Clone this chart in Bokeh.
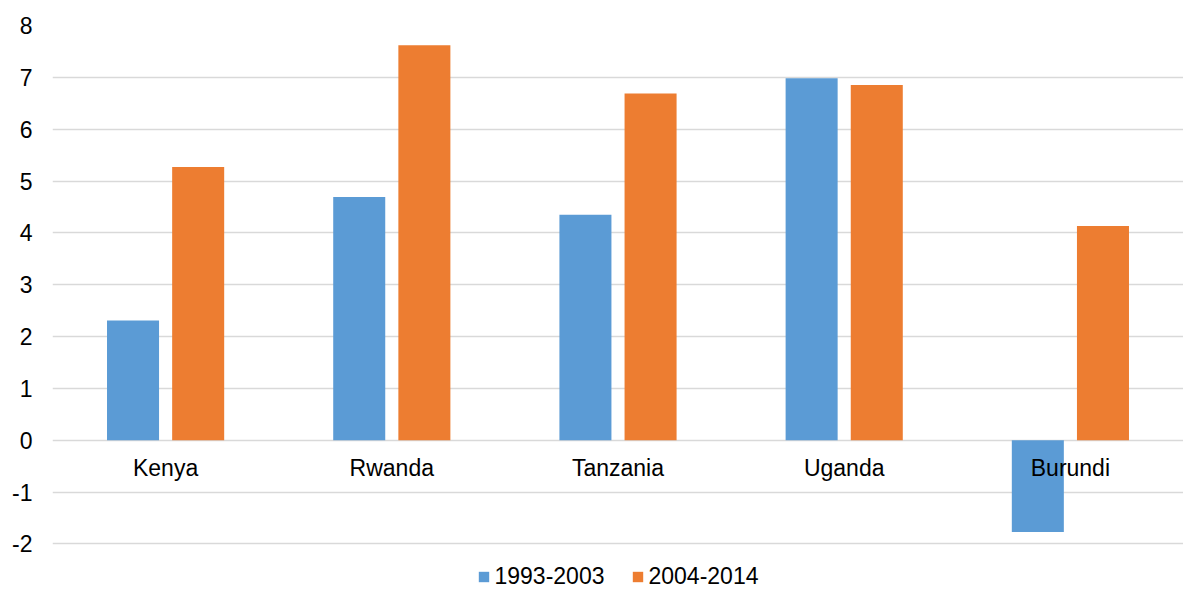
from bokeh.plotting import figure
from bokeh.models import ColumnDataSource, FactorRange, Legend, LegendItem, Range1d, FixedTicker, LabelSet, PrintfTickFormatter
from bokeh.transform import dodge
from bokeh.core.properties import value
from bokeh.embed import file_html
from bokeh.resources import INLINE

countries = ["Kenya", "Rwanda", "Tanzania", "Uganda", "Burundi"]
series_names = ["1993-2003", "2004-2014"]
v_1993_2003 = [2.31, 4.69, 4.35, 6.98, -1.77]
v_2004_2014 = [5.27, 7.62, 6.69, 6.85, 4.13]
y_ticks = [-2, -1, 0, 1, 2, 3, 4, 5, 6, 7, 8]

FONT = "Liberation Sans"
FS = "23px"
BLUE = "#5B9BD5"
ORANGE = "#ED7D31"

src = ColumnDataSource(dict(cat=countries, a=v_1993_2003, b=v_2004_2014, zero=[0] * len(countries)))

p = figure(x_range=FactorRange(*countries, range_padding=0), y_range=Range1d(-2.9, 8),
           width=1183, height=590, output_backend="svg", toolbar_location=None,
           min_border_left=52, min_border_right=0, min_border_top=25, min_border_bottom=0)
p.outline_line_color = None
p.background_fill_color = "white"
p.border_fill_color = "white"

r1 = p.vbar(x=dodge("cat", -0.144, range=p.x_range), top="a", bottom=0, width=0.23,
            source=src, fill_color=BLUE, line_color=None)
r2 = p.vbar(x=dodge("cat", 0.144, range=p.x_range), top="b", bottom=0, width=0.23,
            source=src, fill_color=ORANGE, line_color=None)

labels = LabelSet(x="cat", y="zero", text="cat", source=src, y_offset=-28,
                  text_align="center", text_baseline="middle",
                  text_font=value(FONT), text_font_size=value(FS), text_color=value("#000000"))
p.add_layout(labels)

p.xaxis.visible = False
p.xgrid.visible = False
p.ygrid.grid_line_color = "#D9D9D9"
p.ygrid.grid_line_width = 1.5
p.yaxis.ticker = FixedTicker(ticks=y_ticks)
p.yaxis.formatter = PrintfTickFormatter(format="%d")
p.yaxis.axis_line_color = None
p.yaxis.major_tick_line_color = None
p.yaxis.minor_tick_line_color = None
p.yaxis.major_label_standoff = 14
p.yaxis.major_label_text_font = FONT
p.yaxis.major_label_text_font_size = FS
p.yaxis.major_label_text_color = "#000000"

legend = Legend(items=[LegendItem(label=series_names[0], renderers=[r1]),
                       LegendItem(label=series_names[1], renderers=[r2])],
                orientation="horizontal", location="bottom_center",
                glyph_width=13, glyph_height=13, label_standoff=5, spacing=26,
                label_text_font=FONT, label_text_font_size=FS, label_text_color="#000000",
                border_line_color=None, background_fill_alpha=0, padding=0, margin=0)
p.add_layout(legend, "center")

open("out.html", "w").write(file_html(p, INLINE))
